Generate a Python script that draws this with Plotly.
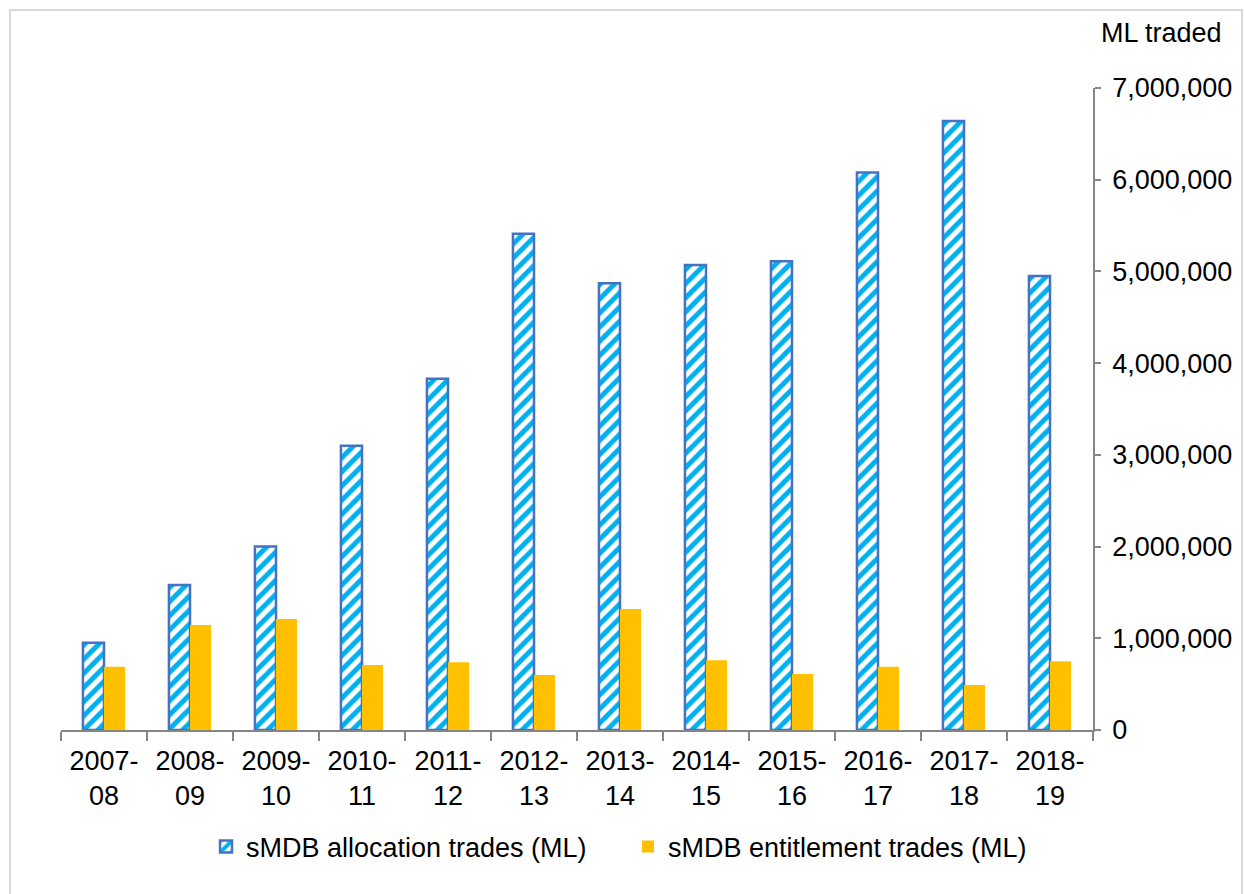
import plotly.graph_objects as go

# Financial years (two-line tick labels)
years = ["2007-<br>08", "2008-<br>09", "2009-<br>10", "2010-<br>11", "2011-<br>12",
         "2012-<br>13", "2013-<br>14", "2014-<br>15", "2015-<br>16", "2016-<br>17",
         "2017-<br>18", "2018-<br>19"]

# Volumes traded, ML
allocation_ml = [950000, 1580000, 2000000, 3100000, 3830000, 5410000,
                 4870000, 5070000, 5110000, 6080000, 6640000, 4950000]
entitlement_ml = [690000, 1145000, 1210000, 710000, 740000, 600000,
                  1320000, 760000, 610000, 690000, 490000, 750000]

y_ticks = [0, 1000000, 2000000, 3000000, 4000000, 5000000, 6000000, 7000000]

FONT = "Liberation Sans, Arial, sans-serif"
FS = 27
W, H = 1244, 894
L, R, T, B = 61, 151, 88, 164
pw, ph = W - L - R, H - T - B

fig = go.Figure()
fig.add_trace(go.Bar(
    x=years, y=allocation_ml, name="sMDB allocation trades (ML)",
    marker=dict(color="white",
                line=dict(color="#4472C4", width=2.5),
                pattern=dict(shape="/", fgcolor="#00B0F0", bgcolor="white",
                             fgopacity=1, size=10, solidity=0.5)),
))
fig.add_trace(go.Bar(
    x=years, y=entitlement_ml, name="sMDB entitlement trades (ML)",
    marker=dict(color="#FFC000", line=dict(width=0)),
))

# Outer chart border
fig.add_shape(type="rect", xref="paper", yref="paper",
              x0=(10 - L) / pw, x1=(1242 - L) / pw,
              y0=(T + ph - 905) / ph, y1=(T + ph - 10) / ph,
              line=dict(color="#D9D9D9", width=2), fillcolor="rgba(0,0,0,0)",
              layer="below")

fig.add_annotation(text="ML traded", xref="paper", yref="paper",
                   x=(1161 - L) / pw, y=(T + ph - 33) / ph,
                   xanchor="center", yanchor="middle", showarrow=False,
                   font=dict(family=FONT, size=FS, color="black"))

fig.update_layout(
    width=W, height=H,
    margin=dict(l=L, r=R, t=T, b=B),
    paper_bgcolor="white", plot_bgcolor="white",
    barmode="group", bargap=0.51, bargroupgap=0,
    font=dict(family=FONT, size=FS, color="black"),
    showlegend=True,
    legend=dict(orientation="h", x=(628 - L) / pw, xanchor="center",
                y=(T + ph - 847) / ph, yanchor="middle",
                font=dict(family=FONT, size=FS, color="black"),
                entrywidth=377, itemwidth=30, traceorder="normal"),
)
fig.update_xaxes(
    type="category", showline=True, linecolor="#868686", linewidth=1.5,
    ticks="outside", tickson="boundaries", ticklen=9, tickcolor="#868686",
    tickwidth=1.5, showgrid=False, zeroline=False, ticklabelstandoff=6,
    tickfont=dict(family=FONT, size=FS, color="black"),
)
fig.update_yaxes(
    side="right", range=[0, 7000000], tickvals=y_ticks,
    tickformat=",d", showline=True, linecolor="#868686", linewidth=1.5,
    ticks="outside", ticklen=6, tickcolor="#868686", tickwidth=1.5,
    showgrid=False, zeroline=False, ticklabelstandoff=6,
    tickfont=dict(family=FONT, size=FS, color="black"),
)

fig.write_html("out.html")
